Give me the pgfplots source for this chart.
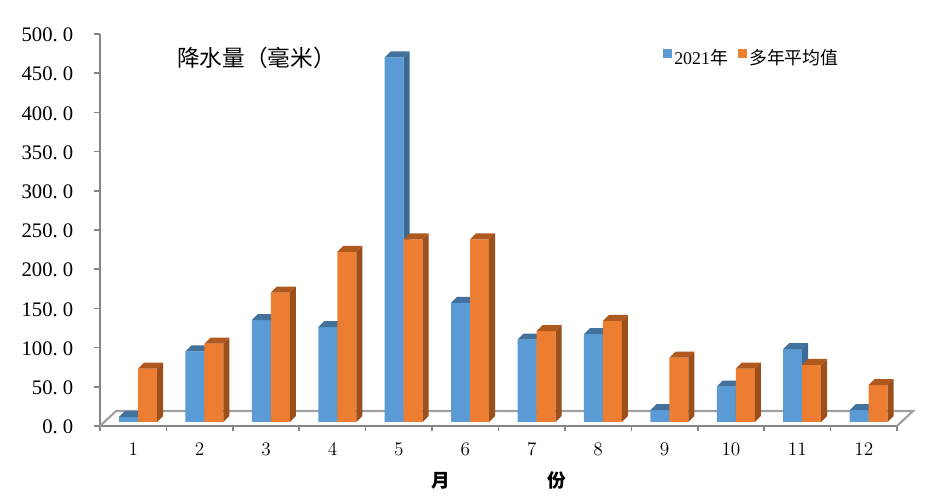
\documentclass[border=0pt]{standalone}
\usepackage{fontspec}
\setmainfont{Liberation Serif}
\newfontfamily\cjk{Noto Sans CJK SC}
\usepackage{pgfplots}
\usepackage{pgfplotstable}
\pgfplotsset{compat=1.18}
\definecolor{cblue}{HTML}{5B9BD5}
\definecolor{cbluetop}{HTML}{41719C}
\definecolor{cblueside}{HTML}{3C6A94}
\definecolor{corange}{HTML}{ED7D31}
\definecolor{corangetop}{HTML}{B0591F}
\definecolor{corangeside}{HTML}{9C4E1B}
\definecolor{caxis}{HTML}{868686}
\definecolor{cfloor}{HTML}{A0A0A0}

% months, 2021 and long-term mean rainfall
\pgfplotstableread{
month y2021 ymean
1  6.5  68
2  90   100
3  130  165
4  121  217
5  465  233
6  152  233
7  105  116
8  112  129
9  15   82
10 45   68
11 93   73
12 15   47
}\raindata

% side and top of one bar: row, column, left edge offset (px), colours
\newcommand\barfaces[5]{%
  \pgfplotstablegetelem{#1}{#2}\of\raindata
  \pgfmathsetmacro\v{\pgfplotsretval}%
  \pgfmathsetmacro\vt{\v+7.65}%
  \pgfmathsetmacro\dt{7.65}%
  \pgfmathsetmacro\xl{#1+1+(#3)/66.42}%
  \pgfmathsetmacro\xr{\xl+19/66.42}%
  \pgfmathsetmacro\xlb{\xl+6/66.42}%
  \pgfmathsetmacro\xrb{\xr+6/66.42}%
  \edef\tmp{\noexpand\addplot[forget plot,draw=none,fill=#5,yshift=3pt]
    coordinates {(\xr,0) (\xrb,\dt) (\xrb,\vt) (\xr,\v)} --cycle;
    \noexpand\addplot[forget plot,draw=none,fill=#4,yshift=3pt]
    coordinates {(\xl,\v) (\xlb,\vt) (\xrb,\vt) (\xr,\v)} --cycle;}%
  \tmp
}

\begin{document}
\begin{tikzpicture}[x=1pt,y=1pt]
\path (0,0) rectangle (699.75,375);
\begin{axis}[
  at={(75pt,55.5pt)}, anchor=south west,
  scale only axis, width=597.75pt, height=294pt,
  xmin=0.5, xmax=12.5, ymin=0, ymax=500, clip=false,
  axis x line*=bottom, axis y line*=left,
  axis line style={-,caxis,line width=1.6pt},
  xtick={1,...,12}, minor xtick={0.5,1.5,...,12.5},
  ytick={0,50,...,500},
  yticklabels={0.\hspace{.25em}0,50.\hspace{.25em}0,100.\hspace{.25em}0,150.\hspace{.25em}0,200.\hspace{.25em}0,250.\hspace{.25em}0,300.\hspace{.25em}0,350.\hspace{.25em}0,400.\hspace{.25em}0,450.\hspace{.25em}0,500.\hspace{.25em}0},
  tick align=outside,
  major tick length=4.5pt, minor tick length=4pt,
  ytick style={caxis,line width=1.2pt},
  minor x tick style={caxis,line width=1.2pt},
  major x tick style={draw=none},
  yticklabel style={font=\fontsize{15.5}{16}\selectfont,text=black,xshift=-12pt,yshift=-0.7pt},
  xticklabel style={font=\fontsize{15}{16}\selectfont,text=black,yshift=-4.5pt},
  xlabel={\cjk\bfseries\fontsize{14}{16}\selectfont 月\hspace{73pt}份},
  xlabel style={at={(axis description cs:0.5,0)},anchor=center,yshift=-40.5pt},
  legend style={draw=none,fill=none,at={(422pt,276pt)},anchor=west,legend columns=2,
    font=\fontsize{13.4}{15}\selectfont,inner sep=0pt,
    /tikz/every even column/.style={column sep=5.5pt}},
  legend image code/.code={\fill[#1] (0pt,-3pt) rectangle (6.5pt,3.5pt);},
  legend cell align=left,
]
% floor behind the bars
\addplot[forget plot,cfloor,line width=1.6pt] coordinates {(0.5,0) (0.741,19.1) (12.741,19.1) (12.5,0)};
% 2021
\addplot[ybar,bar width=14.25pt,bar shift=-3.5pt,fill=cblue,draw=none,yshift=3pt]
  table[x=month,y=y2021] {\raindata};
\addlegendentry{2021{\cjk 年}}
\pgfplotsinvokeforeach{0,...,11}{\barfaces{#1}{y2021}{-14.2}{cbluetop}{cblueside}}
% long-term mean
\addplot[ybar,bar width=14.25pt,bar shift=10.75pt,fill=corange,draw=none,yshift=3pt]
  table[x=month,y=ymean] {\raindata};
\addlegendentry{\cjk 多年平均值}
\pgfplotsinvokeforeach{0,...,11}{\barfaces{#1}{ymean}{4.8}{corangetop}{corangeside}}
\node[anchor=west,font=\cjk\fontsize{17}{18}\selectfont,text=black] at (axis cs:1.59,469) {降水量（毫米）};
\end{axis}
\end{tikzpicture}
\end{document}
